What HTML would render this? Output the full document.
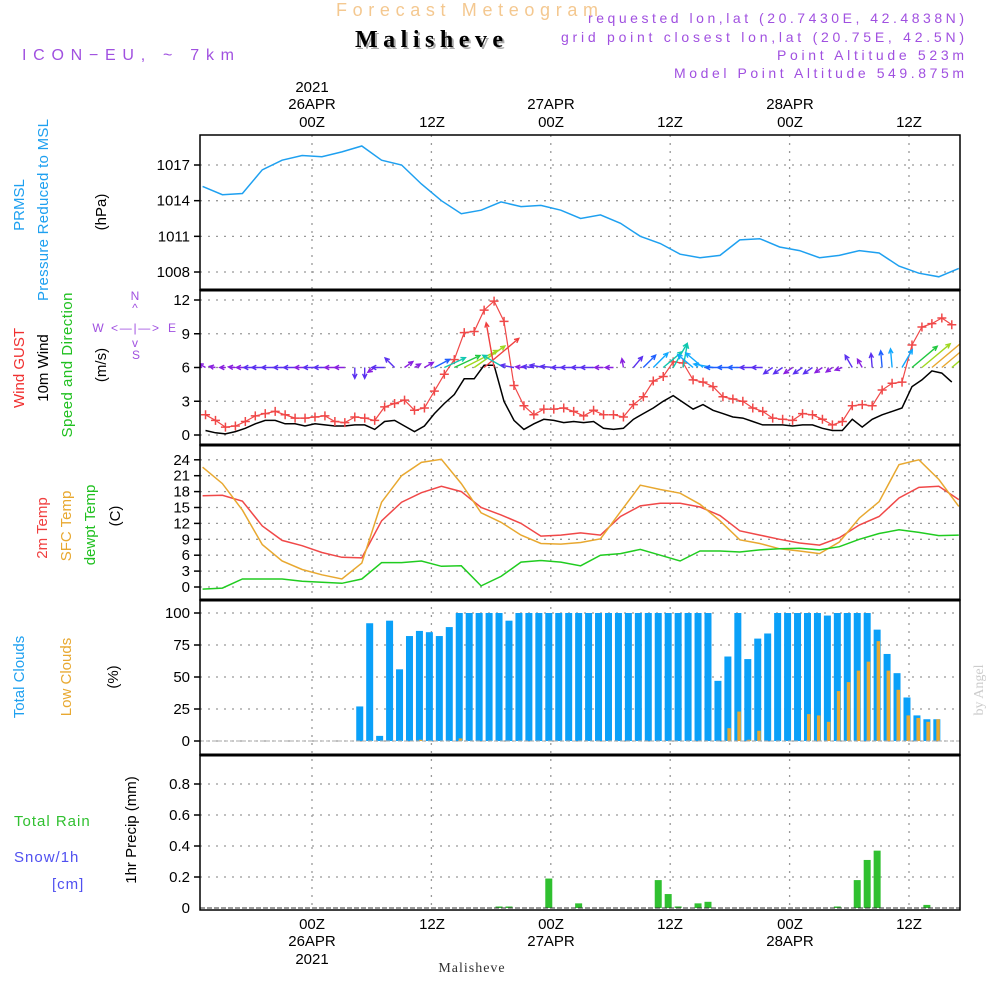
<!DOCTYPE html>
<html><head><meta charset="utf-8">
<style>
html,body{margin:0;padding:0;background:#fff;}
svg{display:block;font-family:"Liberation Sans",sans-serif;}
.tk{font-size:15px;fill:#000;}
</style></head>
<body>
<svg id="chart" width="1000" height="1000" viewBox="0 0 1000 1000" xmlns="http://www.w3.org/2000/svg">
<rect x="0" y="0" width="1000" height="1000" fill="#fff"/>
<!-- header -->
<text x="336" y="16" font-size="18" fill="#f4c890" textLength="262">Forecast Meteogram</text>
<text x="357" y="49" font-size="24" font-weight="bold" font-family="Liberation Serif, serif" fill="#aaa" textLength="148">Malisheve</text>
<text x="355" y="47" font-size="24" font-weight="bold" font-family="Liberation Serif, serif" fill="#000" textLength="148">Malisheve</text>
<text x="22" y="60" font-size="16" fill="#a050e0" textLength="212">ICON−EU, ~ 7km</text>
<g font-size="14" fill="#a050e0">
<text x="588" y="23" textLength="376">requested lon,lat (20.7430E, 42.4838N)</text>
<text x="561" y="42" textLength="403">grid point closest lon,lat (20.75E, 42.5N)</text>
<text x="777" y="60" textLength="187">Point Altitude 523m</text>
<text x="674" y="78" textLength="290">Model Point Altitude 549.875m</text>
</g>
<!-- top time labels -->
<g class="tk" text-anchor="middle">
<text x="312" y="92">2021</text>
<text x="312" y="109">26APR</text>
<text x="312" y="127">00Z</text>
<text x="432" y="127">12Z</text>
<text x="551" y="109">27APR</text>
<text x="551" y="127">00Z</text>
<text x="670" y="127">12Z</text>
<text x="790" y="109">28APR</text>
<text x="790" y="127">00Z</text>
<text x="909" y="127">12Z</text>
</g>
<!-- bottom time labels -->
<g class="tk" text-anchor="middle">
<text x="312" y="929">00Z</text>
<text x="312" y="946">26APR</text>
<text x="312" y="964">2021</text>
<text x="432" y="929">12Z</text>
<text x="551" y="929">00Z</text>
<text x="551" y="946">27APR</text>
<text x="670" y="929">12Z</text>
<text x="790" y="929">00Z</text>
<text x="790" y="946">28APR</text>
<text x="909" y="929">12Z</text>
</g>
<text x="472" y="972" text-anchor="middle" font-size="14" font-family="Liberation Serif, serif" fill="#333" letter-spacing="1">Malisheve</text>
<text transform="translate(983,690) rotate(-90)" text-anchor="middle" font-size="14" font-family="Liberation Serif, serif" fill="#ccc">by Angel</text>

<!-- y axis titles -->
<g font-size="15">
<text transform="translate(24,205) rotate(-90)" text-anchor="middle" fill="#1ea0f0">PRMSL</text>
<text transform="translate(48,210) rotate(-90)" text-anchor="middle" fill="#1ea0f0" textLength="182">Pressure Reduced to MSL</text>
<text transform="translate(106,212) rotate(-90)" text-anchor="middle" fill="#000">(hPa)</text>
<text transform="translate(24,368) rotate(-90)" text-anchor="middle" fill="#f03030">Wind GUST</text>
<text transform="translate(48,368) rotate(-90)" text-anchor="middle" fill="#000">10m Wind</text>
<text transform="translate(72,365) rotate(-90)" text-anchor="middle" fill="#20c020" textLength="145">Speed and Direction</text>
<text transform="translate(106,365) rotate(-90)" text-anchor="middle" fill="#000">(m/s)</text>
<text transform="translate(47,528) rotate(-90)" text-anchor="middle" fill="#f04040">2m Temp</text>
<text transform="translate(71,526) rotate(-90)" text-anchor="middle" fill="#e8a830">SFC Temp</text>
<text transform="translate(95,525) rotate(-90)" text-anchor="middle" fill="#20c020">dewpt Temp</text>
<text transform="translate(120,516) rotate(-90)" text-anchor="middle" fill="#000">(C)</text>
<text transform="translate(24,677) rotate(-90)" text-anchor="middle" fill="#1ea0f0">Total Clouds</text>
<text transform="translate(71,677) rotate(-90)" text-anchor="middle" fill="#e8a830">Low Clouds</text>
<text transform="translate(118,677) rotate(-90)" text-anchor="middle" fill="#000">(%)</text>
<text transform="translate(136,830) rotate(-90)" text-anchor="middle" fill="#000">1hr Precip (mm)</text>
<text x="14" y="826" fill="#30c030" letter-spacing="1">Total   Rain</text>
<text x="14" y="862" fill="#5050f0" letter-spacing="1">Snow/1h</text>
<text x="52" y="889" fill="#5050f0" letter-spacing="1">[cm]</text>
</g>
<!-- compass -->
<g font-size="12" fill="#a050e0" text-anchor="middle">
<text x="135" y="300">N</text>
<text x="135" y="312">^</text>
<text x="135" y="332" textLength="48">&lt; — | — &gt;</text>
<text x="98" y="332">W</text>
<text x="172" y="332">E</text>
<text x="135" y="347">v</text>
<text x="136" y="359">S</text>
</g>
<g id="plot"></g>
</svg>
<script>
// ---- data ----
const tempHours = [-11,-9,-7,-5,-3,-1,1,3,5,7,9,11,13,15,17,19,21,23,25,27,29,31,33,35,37,39,41,43,45,47,49,51,53,55,57,59,61,63,65];
const pressure = [1015.2,1014.5,1014.6,1016.6,1017.4,1017.8,1017.7,1018.1,1018.6,1017.4,1017.0,1015.4,1014.0,1012.9,1013.2,1013.9,1013.5,1013.6,1013.2,1012.5,1012.8,1012.1,1011.0,1010.4,1009.5,1009.2,1009.4,1010.7,1010.8,1010.1,1009.8,1009.2,1009.4,1009.8,1009.6,1008.5,1007.9,1007.6,1008.3];
const temp2m = [17.2,17.3,16.2,11.5,8.8,7.8,6.5,5.6,5.5,12.5,16,17.8,19,18,15,13.6,12,9.6,9.8,10.2,9.8,13.3,15.3,15.8,15.8,15.1,13.5,10.6,9.8,9,8.3,7.9,9.3,11.7,13.3,16.8,18.8,19,16.5];
const tempSfc = [22.6,19.5,14.5,8,4.9,3.3,2.3,1.5,4.5,16,21,23.5,24.1,19.5,14,12.2,9.8,8.2,8.1,8.4,9.1,14.2,19.2,18.4,17.7,15.6,12.5,8.9,8.2,7.2,6.8,6.3,8.5,13,16.1,23.1,24,20.3,15.2];
const dewpt = [-0.4,-0.2,1.5,1.5,1.5,1.1,0.9,0.7,1.5,4.6,4.6,4.9,3.9,4,0.2,2,4.7,5,4.7,4,6,6.3,7.1,6,4.9,6.8,6.8,6.6,7,7.2,7.3,7,7.6,9,10.1,10.8,10.3,9.7,9.8];
// hourly series, first value at hour -10.7 relative to 00Z 26APR
const gust = [1.8,1.3,0.7,0.8,1.2,1.7,1.9,2.1,1.8,1.5,1.5,1.6,1.7,1.2,1.1,1.6,1.5,1.3,2.5,2.8,3.1,2.2,2.4,3.9,5.4,6.7,9.1,9.2,11.1,11.9,10.1,4.4,2.6,1.8,2.3,2.3,2.4,2.1,
 1.7,2.2,1.8,1.8,1.6,2.7,3.4,4.8,5.2,6.5,6.4,4.9,4.7,4.3,3.4,3.2,3.0,2.4,2.1,1.5,1.4,1.3,1.9,1.8,1.4,0.9,1.2,2.6,2.7,2.6,4.0,4.6,4.7,8.0,9.6,9.9,10.4,9.8];
const windSpeed = [0.4,0.2,0.1,0.3,0.6,1,1.3,1.3,1,1,0.8,1,0.9,0.8,0.8,0.9,0.9,0.5,1.2,1.3,0.8,0.3,0.8,1.9,2.8,3.6,5,5,6.2,6.2,3,1.3,0.5,1,1.4,1.3,1.1,1.2,
 1.1,1.2,0.6,0.5,0.6,1.4,1.9,2.4,3,3.5,2.9,2.3,2.7,2.2,1.9,1.6,1.5,1.2,0.9,0.9,0.9,0.8,0.9,0.9,0.6,0.4,0.4,1.4,0.7,1.4,1.8,2.1,2.4,4.3,4.9,5.7,5.5,4.7];
const windDir = [150,170,180,175,180,180,180,180,180,180,180,180,180,180,180,270,270,215,180,135,35,30,30,28,25,25,27,35,40,100,150,170,175,175,170,175,180,180,
 180,180,180,180,100,50,45,45,40,60,80,140,140,170,180,180,180,180,180,215,215,215,215,215,215,215,200,120,120,95,95,95,60,40,40,40,40,40];
const totalClouds = [0,0,0,0,0,0,0,0,0,0,0,0,0,0,0,0,27,92,4,94,56,82,86,85,82,89,100,100,100,100,100,94,100,100,100,100,100,100,100,100,100,100,100,100,100,100,100,100,100,100,100,100,47,66,100,64,80,84,100,100,100,100,100,98,100,100,100,100,87,68,53,34,20,17,17,0];
const lowClouds = [0,0,0,0,0,0,0,0,0,0,0,0,0,0,0,0,0,0,0,0,0,0,1,0,0,0,2,0,0,0,0,0,0,0,0,0,0,0,0,0,0,0,0,0,0,0,0,0,0,0,0,0,0,10,23,1,8,0,0,0,0,21,20,15,39,46,55,62,78,55,40,20,18,15,17,0];
const precip = [0,0,0,0,0,0,0,0,0,0,0,0,0,0,0,0,0,0,0,0,0,0,0,0,0,0,0,0,0,0,0.005,0.005,0,0,0,0.19,0,0,0.03,0,0,0,0,0,0,0,0.18,0.09,0.01,0,0.03,0.04,0,0,0,0,0,0,0,0,0,0,0,0,0.005,0,0.18,0.31,0.37,0,0,0,0,0.02,0,0];
const pTicks = [1008,1011,1014,1017];
const wTicks = [0,3,6,9,12];
const tTicks = [0,3,6,9,12,15,18,21,24];
const cTicks = [0,25,50,75,100];
const rTicks = [0,0.2,0.4,0.6,0.8];
const rTickLabels = ["0","0.2","0.4","0.6","0.8"];
const gridHours = [0,12,24,36,48,60];
const firstHour = -10.7;

// ---- scales ----
const X0=200, X1=960;
const xT = h => 312 + h*9.95;
const xI = i => xT(firstHour + i);
const yP = v => 165 + (1017-v)*11.89;
const yW = v => 435 - v*11.25;
const yT = v => 587 - v*5.3;
const yC = v => 741 - v*1.28;
const yR = v => 908 - v*155;
const panels = [[135,290],[290,445],[445,600],[600,755],[755,910]];
const NS = "http://www.w3.org/2000/svg";
const plot = document.getElementById('plot');
function el(tag, attrs, parent){const e=document.createElementNS(NS,tag);for(const k in attrs)e.setAttribute(k,attrs[k]);(parent||plot).appendChild(e);return e;}

const defs = el('defs',{});
const cp = el('clipPath',{id:'clipPlot'},defs);
el('rect',{x:X0,y:135,width:X1-X0,height:775},cp);

const gridG = el('g',{});


gridHours.forEach(h=>{
  const l = el('line',{x1:xT(h),x2:xT(h),y1:135,y2:910,stroke:'#999','stroke-width':1.3,'stroke-dasharray':'2,6'},gridG);
  
  
});
function hgrid(ticks, ys, labels, name){
  ticks.forEach((t,k)=>{
    const y = ys(t);
    const l = el('line',{x1:X0,x2:X1,y1:y,y2:y,stroke:'#999','stroke-width':1.3,'stroke-dasharray':'2,6'},gridG);
    
    
    const tk = el('line',{x1:X0-6,x2:X0,y1:y,y2:y,stroke:'#000','stroke-width':1.5});
    
    
    const tx = el('text',{x:X0-10,y:y+5,'text-anchor':'end','class':'tk'});
    tx.textContent = labels ? labels[k] : String(t);
    
    
  });
}
hgrid(pTicks,yP,null,'pressure');
hgrid(wTicks,yW,null,'wind');
hgrid(tTicks,yT,null,'temp');
hgrid(cTicks,yC,null,'cloud');
hgrid(rTicks.slice(1),yR,rTickLabels.slice(1),'precip');
{
  const tx = el('text',{x:X0-10,y:yR(0)+5,'text-anchor':'end','class':'tk'}); tx.textContent='0';
  
  
}

const marks = el('g',{'clip-path':'url(#clipPlot)'});



function line(xs, vals, ys, color, name, w){
  const pts = vals.map((v,k)=>xs[k].toFixed(1)+','+ys(v).toFixed(1)).join(' ');
  const p = el('polyline',{points:pts,fill:'none',stroke:color,'stroke-width':w||1.5},marks);
  
  
  return p;
}
const tx2 = tempHours.map(xT);
const hx = gust.map((v,i)=>xI(i));
line(tx2, pressure, yP, '#1ea0f0', 'pressure-line');
line(tx2, temp2m, yT, '#f04848', 'temp2m-line');
line(tx2, tempSfc, yT, '#e8a830', 'sfc-temp-line');
line(tx2, dewpt, yT, '#20cc20', 'dewpt-line');

totalClouds.forEach((v,i)=>{
  if(v<=0) return;
  const x = xI(i)-5;
  const r = el('rect',{x:x-3.5,y:yC(v),width:7,height:yC(0)-yC(v),fill:'#0aa0f8'},marks);
  
  
});
lowClouds.forEach((v,i)=>{
  if(v<=0) return;
  const x = xI(i)-4;
  const r = el('rect',{x:x-1.5,y:yC(v),width:3.5,height:yC(0)-yC(v),fill:'#e8a830'},marks);
  
  
});
{
  const b = el('line',{x1:X0,x2:X1,y1:yC(0),y2:yC(0),stroke:'#aaa','stroke-width':1,'stroke-dasharray':'4,2'},marks);
  
  
}
precip.forEach((v,i)=>{
  if(v<=0) return;
  const x = xI(i)-5;
  const h = Math.max(1.5, yR(0)-yR(v));
  const r = el('rect',{x:x-3.5,y:yR(0)-h,width:7,height:h,fill:'#30c030'},marks);
  
  
});
{
  const b = el('line',{x1:X0,x2:X1,y1:yR(0),y2:yR(0),stroke:'#333','stroke-width':1,'stroke-dasharray':'5,2'},marks);
  
  
}

line(hx, windSpeed, yW, '#000', 'wind-speed-line', 1.5);
line(hx, gust, yW, '#f04848', 'gust-line', 1.2);
gust.forEach((v,i)=>{
  const x=xI(i), y=yW(v);
  const g = el('path',{d:`M${x-4.5},${y}H${x+4.5}M${x},${y-4.5}V${y+4.5}`,stroke:'#f04848','stroke-width':1.5,fill:'none'},marks);
  
  
});
function windColor(s){
  if(s<0.9) return '#8a20e0';
  if(s<1.5) return '#5a30f0';
  if(s<2.0) return '#2060ff';
  if(s<2.8) return '#10a8ff';
  if(s<3.6) return '#10c8b0';
  if(s<4.5) return '#20c840';
  if(s<5.2) return '#a0d820';
  if(s<5.8) return '#e8a830';
  if(s<6.0) return '#f08030';
  return '#f04040';
}
windSpeed.forEach((s,i)=>{
  const x0=xI(i), y0=yW(6);
  const len = 5 + 6.5*s;
  const a = windDir[i]*Math.PI/180;
  const x1 = x0 + len*Math.cos(a), y1 = y0 - len*Math.sin(a);
  const ha = 0.45, hl = 5;
  const bx1 = x1 - hl*Math.cos(a-ha), by1 = y1 + hl*Math.sin(a-ha);
  const bx2 = x1 - hl*Math.cos(a+ha), by2 = y1 + hl*Math.sin(a+ha);
  const c = windColor(s);
  const p = el('path',{d:`M${x0.toFixed(1)},${y0.toFixed(1)}L${x1.toFixed(1)},${y1.toFixed(1)}M${bx1.toFixed(1)},${by1.toFixed(1)}L${x1.toFixed(1)},${y1.toFixed(1)}L${bx2.toFixed(1)},${by2.toFixed(1)}`,stroke:c,'stroke-width':1.4,fill:'none'},marks);
  
  
});

panels.forEach((p,k)=>{
  const r = el('rect',{x:X0,y:p[0],width:X1-X0,height:p[1]-p[0],fill:'none',stroke:'#000','stroke-width':1.5});
  
  
});
[290,445,600,755].forEach(y=>{
  const l = el('line',{x1:X0,x2:X1,y1:y,y2:y,stroke:'#000','stroke-width':3});
  
  
});
</script>
</body></html>
